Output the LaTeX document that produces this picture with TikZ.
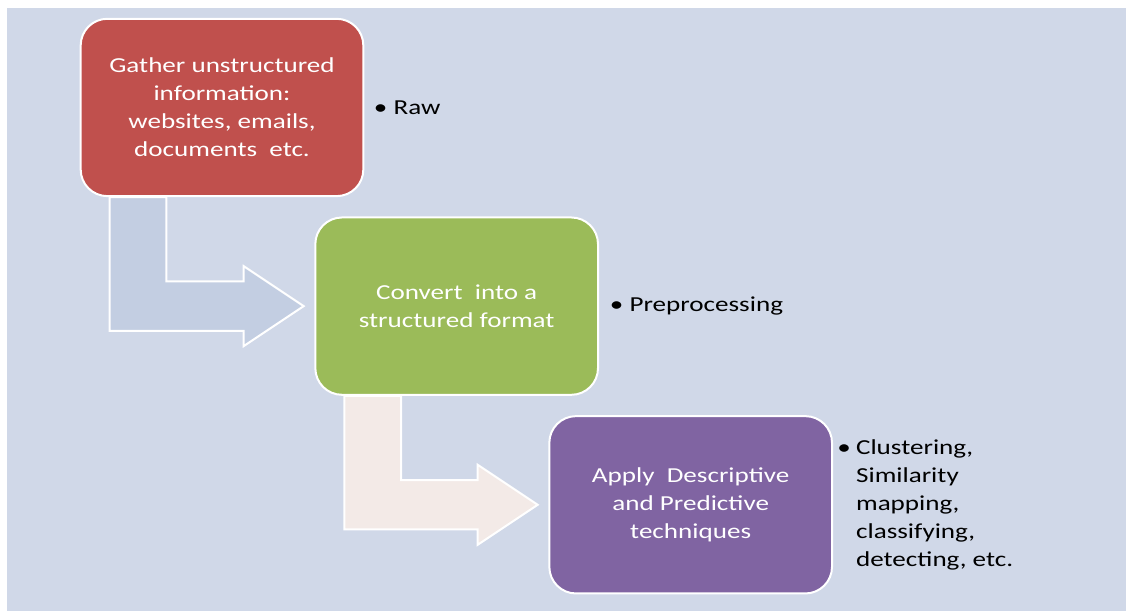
\documentclass[tikz,border=0pt]{standalone}
\usepackage{fontspec}
\setmainfont{Carlito}[FakeStretch=1.27]
\usetikzlibrary{positioning,calc}

\definecolor{panel}{HTML}{D0D8E8}
\definecolor{gatherred}{HTML}{C0504D}
\definecolor{convertgreen}{HTML}{9BBB59}
\definecolor{applypurple}{HTML}{8064A2}
\definecolor{arrowblue}{HTML}{C3CEE2}
\definecolor{arrowpink}{HTML}{F3EAE7}

\begin{document}
\begin{tikzpicture}[
        stepbox/.style={draw=white, line width=1.5pt, rounded corners=20pt,
            minimum width=212pt, minimum height=133pt, text=white,
            align=center, font=\fontsize{16}{21}\selectfont},
        note/.style={inner sep=0pt, align=left, font=\fontsize{16}{21}\selectfont},
        flowarrow/.style={draw=white, line width=1.5pt, line join=miter}
    ]
        \useasboundingbox (0,0) rectangle (844.5pt,-459.75pt);
        \fill[panel] (5.25pt,-6pt) rectangle (844.5pt,-458.25pt);

        % the three steps
        \node[stepbox, fill=gatherred] (gather) at (166.5pt,-80.6pt)
            {Gather unstructured\\ information:\\ websites, emails,\\ documents~ etc.};
        \node[stepbox, fill=convertgreen, on grid, below right=149pt and 176pt of gather] (convert)
            {Convert~ into a\\ structured format};
        \node[stepbox, fill=applypurple, on grid, below right=149pt and 175.5pt of convert] (apply)
            {Apply~ Descriptive\\ and Predictive\\ techniques};

        % notes beside them
        \node[note, right=7pt of gather] (raw) {\textbullet\ Raw};
        \node[note, right=8pt of convert] (prep) {\textbullet\ Preprocessing};
        \node[note, right=3pt of apply] (methods) {%
            \begin{tabular}{@{}l@{\hspace{4pt}}l@{}}
                \textbullet & Clustering,\\
                & Similarity\\
                & mapping,\\
                & classifying,\\
                & detecting, etc.
            \end{tabular}};

        % bent arrows from one step down to the next
        \foreach \from/\to/\col in {gather/convert/arrowblue, convert/apply/arrowpink}
            \draw[flowarrow, fill=\col] let \p1 = (\from.south west), \p2 = ($(\to.west)+(-8pt,0)$) in
                (\x1+22.5pt,\y1) -- (\x1+65pt,\y1) -- (\x1+65pt,\y2+18.5pt)
                -- (\x2-45pt,\y2+18.5pt) -- (\x2-45pt,\y2+30pt) -- (\x2,\y2)
                -- (\x2-45pt,\y2-30pt) -- (\x2-45pt,\y2-18.5pt)
                -- (\x1+22.5pt,\y2-18.5pt) -- cycle;
\end{tikzpicture}
\end{document}
